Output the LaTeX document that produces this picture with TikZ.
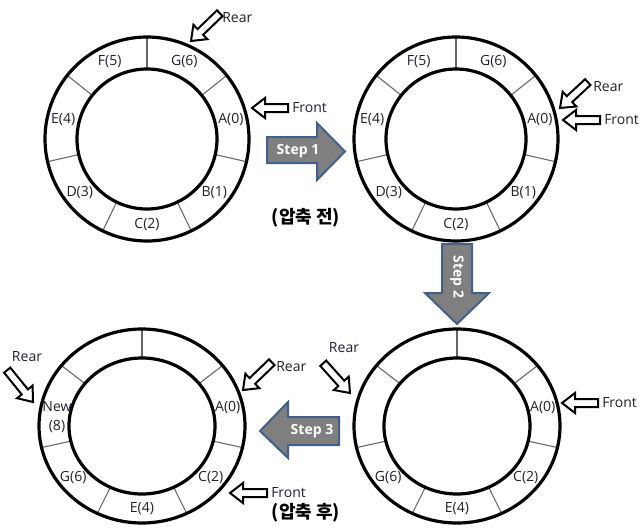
\documentclass[tikz,border=0pt]{standalone}
\usepackage{fontspec}
\setmainfont{Open Sans}
\newfontfamily\krfont{Noto Sans CJK KR}
\usetikzlibrary{calc}
\definecolor{stepfill}{RGB}{127,127,127}
\definecolor{stepedge}{RGB}{65,97,140}
\definecolor{labcol}{RGB}{30,32,50}
\tikzset{
  ringline/.style={line width=2.4pt},
  divline/.style={draw=black!60, line width=0.8pt},
  lbl/.style={font=\fontsize{10.5}{14}\selectfont, text=labcol, inner sep=0pt, align=center},
  ptr/.style={draw=black, line width=1.5pt, fill=white, line join=miter},
  ptrtext/.style={font=\fontsize{10.5}{12}\selectfont, text=labcol, inner sep=0pt},
  stepshape/.style={fill=stepfill, draw=stepedge, line width=1.5pt, line join=miter},
  steptext/.style={font=\bfseries\fontsize{10.5}{12}\selectfont, text=white, inner sep=0pt},
  krtext/.style={font=\krfont\bfseries\fontsize{13.5}{15}\selectfont, inner sep=0pt},
}
% circular ring (top)
\newcommand\cring[2]{%
  \coordinate (#1) at #2;
  \foreach \k in {0,...,6}{\draw[divline] ($(#1)+(-90+\k*51.4286:70)$) -- ($(#1)+(-90+\k*51.4286:102)$);}
  \draw[ringline] (#1) circle[radius=102];
  \draw[ringline] (#1) circle[radius=70];
}
% elliptic ring (bottom)
\newcommand\ering[2]{%
  \coordinate (#1) at #2;
  \foreach \k in {0,...,6}{\draw[divline] ($(#1)+(-90+\k*51.4286:73 and 68)$) -- ($(#1)+(-90+\k*51.4286:103 and 97)$);}
  \draw[ringline] (#1) ellipse[x radius=103, y radius=97];
  \draw[ringline] (#1) ellipse[x radius=73, y radius=68];
}
% hollow pointer arrow: tip, angle (tip->tail), length
\newcommand\ptrarrow[3]{%
  \draw[ptr, shift={#1}, rotate=#2] (0,0) -- (13,-10) -- (13,-4) -- (#3,-4) -- (#3,4) -- (13,4) -- (13,10) -- cycle;
}
\begin{document}
\begin{tikzpicture}[x=0.75pt,y=-0.75pt]
\useasboundingbox (0,0) rectangle (640,529);

% ---------- ring 1 ----------
\cring{c1}{(147,139)}
\node[lbl] (r1g) at ($(c1)+(-64.29:86)$) {G(6)};
\node[lbl] (r1a) at ($(c1)+(-12.86:86)$) {A(0)};
\node[lbl] (r1b) at ($(c1)+(38.57:86)$) {B(1)};
\node[lbl] (r1c) at ($(c1)+(90:86)$) {C(2)};
\node[lbl] (r1d) at ($(c1)+(141.43:86)$) {D(3)};
\node[lbl] (r1e) at ($(c1)+(192.86:86)$) {E(4)};
\node[lbl] (r1f) at ($(c1)+(244.29:86)$) {F(5)};
\ptrarrow{(191,41)}{44}{40}
\node[ptrtext, anchor=west] (t1r) at (222,18) {Rear};
\ptrarrow{(252,108)}{0}{36}
\node[ptrtext, anchor=west] (t1f) at (292,108) {Front};

% ---------- ring 2 ----------
\cring{c2}{(456,139)}
\node[lbl] (r2g) at ($(c2)+(-64.29:86)$) {G(6)};
\node[lbl] (r2a) at ($(c2)+(-12.86:86)$) {A(0)};
\node[lbl] (r2b) at ($(c2)+(38.57:86)$) {B(1)};
\node[lbl] (r2c) at ($(c2)+(90:86)$) {C(2)};
\node[lbl] (r2d) at ($(c2)+(141.43:86)$) {D(3)};
\node[lbl] (r2e) at ($(c2)+(192.86:86)$) {E(4)};
\node[lbl] (r2f) at ($(c2)+(244.29:86)$) {F(5)};
\ptrarrow{(560,108)}{43}{38}
\node[ptrtext, anchor=west] (t2r) at (593,87) {Rear};
\ptrarrow{(563,120)}{0}{37}
\node[ptrtext, anchor=west] (t2f) at (604,120) {Front};

% ---------- ring 3 ----------
\ering{c3}{(457,426)}
\node[lbl] (r3a) at ($(c3)+(-12.86:88 and 82.5)$) {A(0)};
\node[lbl] (r3c) at ($(c3)+(38.57:88 and 82.5)$) {C(2)};
\node[lbl] (r3e) at ($(c3)+(90:88 and 82.5)$) {E(4)};
\node[lbl] (r3g) at ($(c3)+(141.43:88 and 82.5)$) {G(6)};
\ptrarrow{(350,393)}{132}{40}
\node[ptrtext] (t3r) at (344,348) {Rear};
\ptrarrow{(562,403)}{0}{36}
\node[ptrtext, anchor=west] (t3f) at (602,403) {Front};

% ---------- ring 4 ----------
\ering{c4}{(142,426)}
\node[lbl] (r4a) at ($(c4)+(-12.86:88 and 82.5)$) {A(0)};
\node[lbl] (r4c) at ($(c4)+(38.57:88 and 82.5)$) {C(2)};
\node[lbl] (r4e) at ($(c4)+(90:88 and 82.5)$) {E(4)};
\node[lbl] (r4g) at ($(c4)+(141.43:88 and 82.5)$) {G(6)};
\node[lbl] (r4n) at (57,417) {New\\(8)};
\ptrarrow{(33,402)}{129}{41}
\node[ptrtext] (t4r1) at (27,357) {Rear};
\ptrarrow{(243,390)}{44}{40}
\node[ptrtext, anchor=west] (t4r2) at (276,367) {Rear};
\ptrarrow{(230,493)}{0}{37}
\node[ptrtext, anchor=west] (t4f) at (271,493) {Front};

% ---------- step arrows ----------
\draw[stepshape] (267,137) -- (317,137) -- (317,123) -- (345,151.5) -- (317,180) -- (317,163) -- (267,163) -- cycle;
\node[steptext] (s1) at (298,151.5) {Step 1};
\draw[stepshape] (442,244) -- (472,244) -- (472,293) -- (489,293) -- (457,324) -- (425,293) -- (442,293) -- cycle;
\node[steptext, rotate=-90] (s2) at (457,277) {Step 2};
\draw[stepshape] (260,431) -- (288,402) -- (288,417) -- (339,417) -- (339,445) -- (288,445) -- (288,458) -- cycle;
\node[steptext] (s3) at (312,431) {Step 3};

% ---------- captions ----------
\node[krtext] (cap1) at (306,218) {(압축 전)};
\node[krtext] (cap2) at (306,513) {(압축 후)};
\end{tikzpicture}
\end{document}
